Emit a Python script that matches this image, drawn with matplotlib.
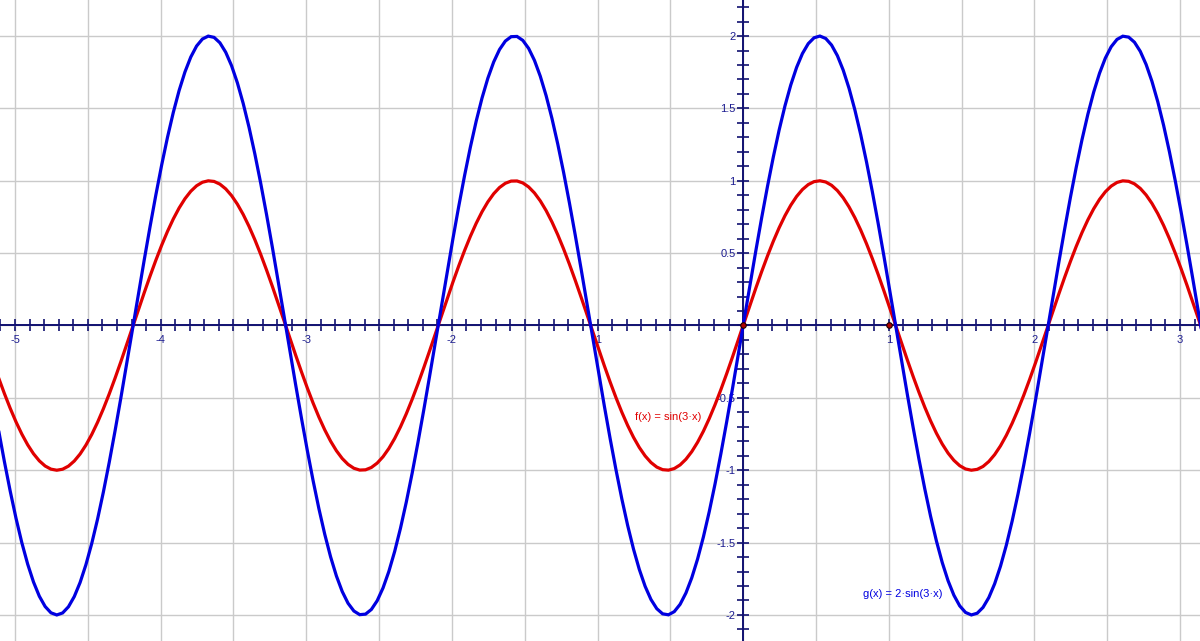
import numpy as np
import matplotlib

matplotlib.use("Agg")
import matplotlib.pyplot as plt
from matplotlib.ticker import MultipleLocator, FuncFormatter

# f(x) = a * sin(k * x), as written on the chart
amplitudes = [1.0, 2.0]
frequency = 3.0
curve_labels = ["f(x) = sin(3·x)", "g(x) = 2·sin(3·x)"]
curve_colors = ["#e00000", "#0000e0"]
label_pos = [(-0.742, -0.632), (0.824, -1.855)]

# free points drawn on the x axis
point_x = [0.0, 1.0]
point_y = [0.0, 0.0]

x_range = (-5.103, 3.137)
y_range = (-2.18, 2.249)

AXIS = "#101070"
TEXT = "#1c1c90"
plt.rcParams["font.family"] = ["Liberation Sans", "DejaVu Sans"]

fig = plt.figure(figsize=(12, 6.41), dpi=100)
ax = fig.add_axes([0, 0, 1, 1])
ax.set_xlim(*x_range)
ax.set_ylim(*y_range)

xs = np.arange(x_range[0] - 0.05, x_range[1] + 0.05, 0.04)
for amp, lab, col in zip(amplitudes, curve_labels, curve_colors):
    ax.plot(xs, amp * np.sin(frequency * xs), color=col, lw=2.3, zorder=3,
            solid_joinstyle="miter")

for (lx, ly), lab, col in zip(label_pos, curve_labels, curve_colors):
    ax.text(lx, ly, lab, color=col, fontsize=8, ha="left", va="center")

ax.plot(point_x, point_y, "o", ms=4, mfc="#b00000", mec="#200000", mew=0.8, zorder=4)

# axes through origin
for side in ("top", "right"):
    ax.spines[side].set_visible(False)
ax.spines["left"].set_position(("data", 0))
ax.spines["bottom"].set_position(("data", 0))
for side in ("left", "bottom"):
    ax.spines[side].set_color(AXIS)
    ax.spines[side].set_linewidth(1.4)
    ax.spines[side].set_zorder(2)

ax.xaxis.set_major_locator(MultipleLocator(0.5))
ax.yaxis.set_major_locator(MultipleLocator(0.5))
ax.xaxis.set_minor_locator(MultipleLocator(0.1))
ax.yaxis.set_minor_locator(MultipleLocator(0.1))


def xfmt(v, _):
    if abs(v) < 1e-9 or abs(v - round(v)) > 1e-9:
        return ""
    return f"{int(round(v))}"


def yfmt(v, _):
    if abs(v) < 1e-9:
        return ""
    return f"{v:g}"


ax.xaxis.set_major_formatter(FuncFormatter(xfmt))
ax.yaxis.set_major_formatter(FuncFormatter(yfmt))
ax.tick_params(which="both", direction="inout", length=8, width=1.2, color=AXIS,
               labelcolor=TEXT, labelsize=8)
ax.tick_params(axis="x", pad=3)
ax.tick_params(axis="y", pad=1.5)

ax.grid(True, which="major", color="#cacaca", lw=1.0, zorder=0)
ax.set_axisbelow(True)

fig.savefig("out.png", dpi=100)
